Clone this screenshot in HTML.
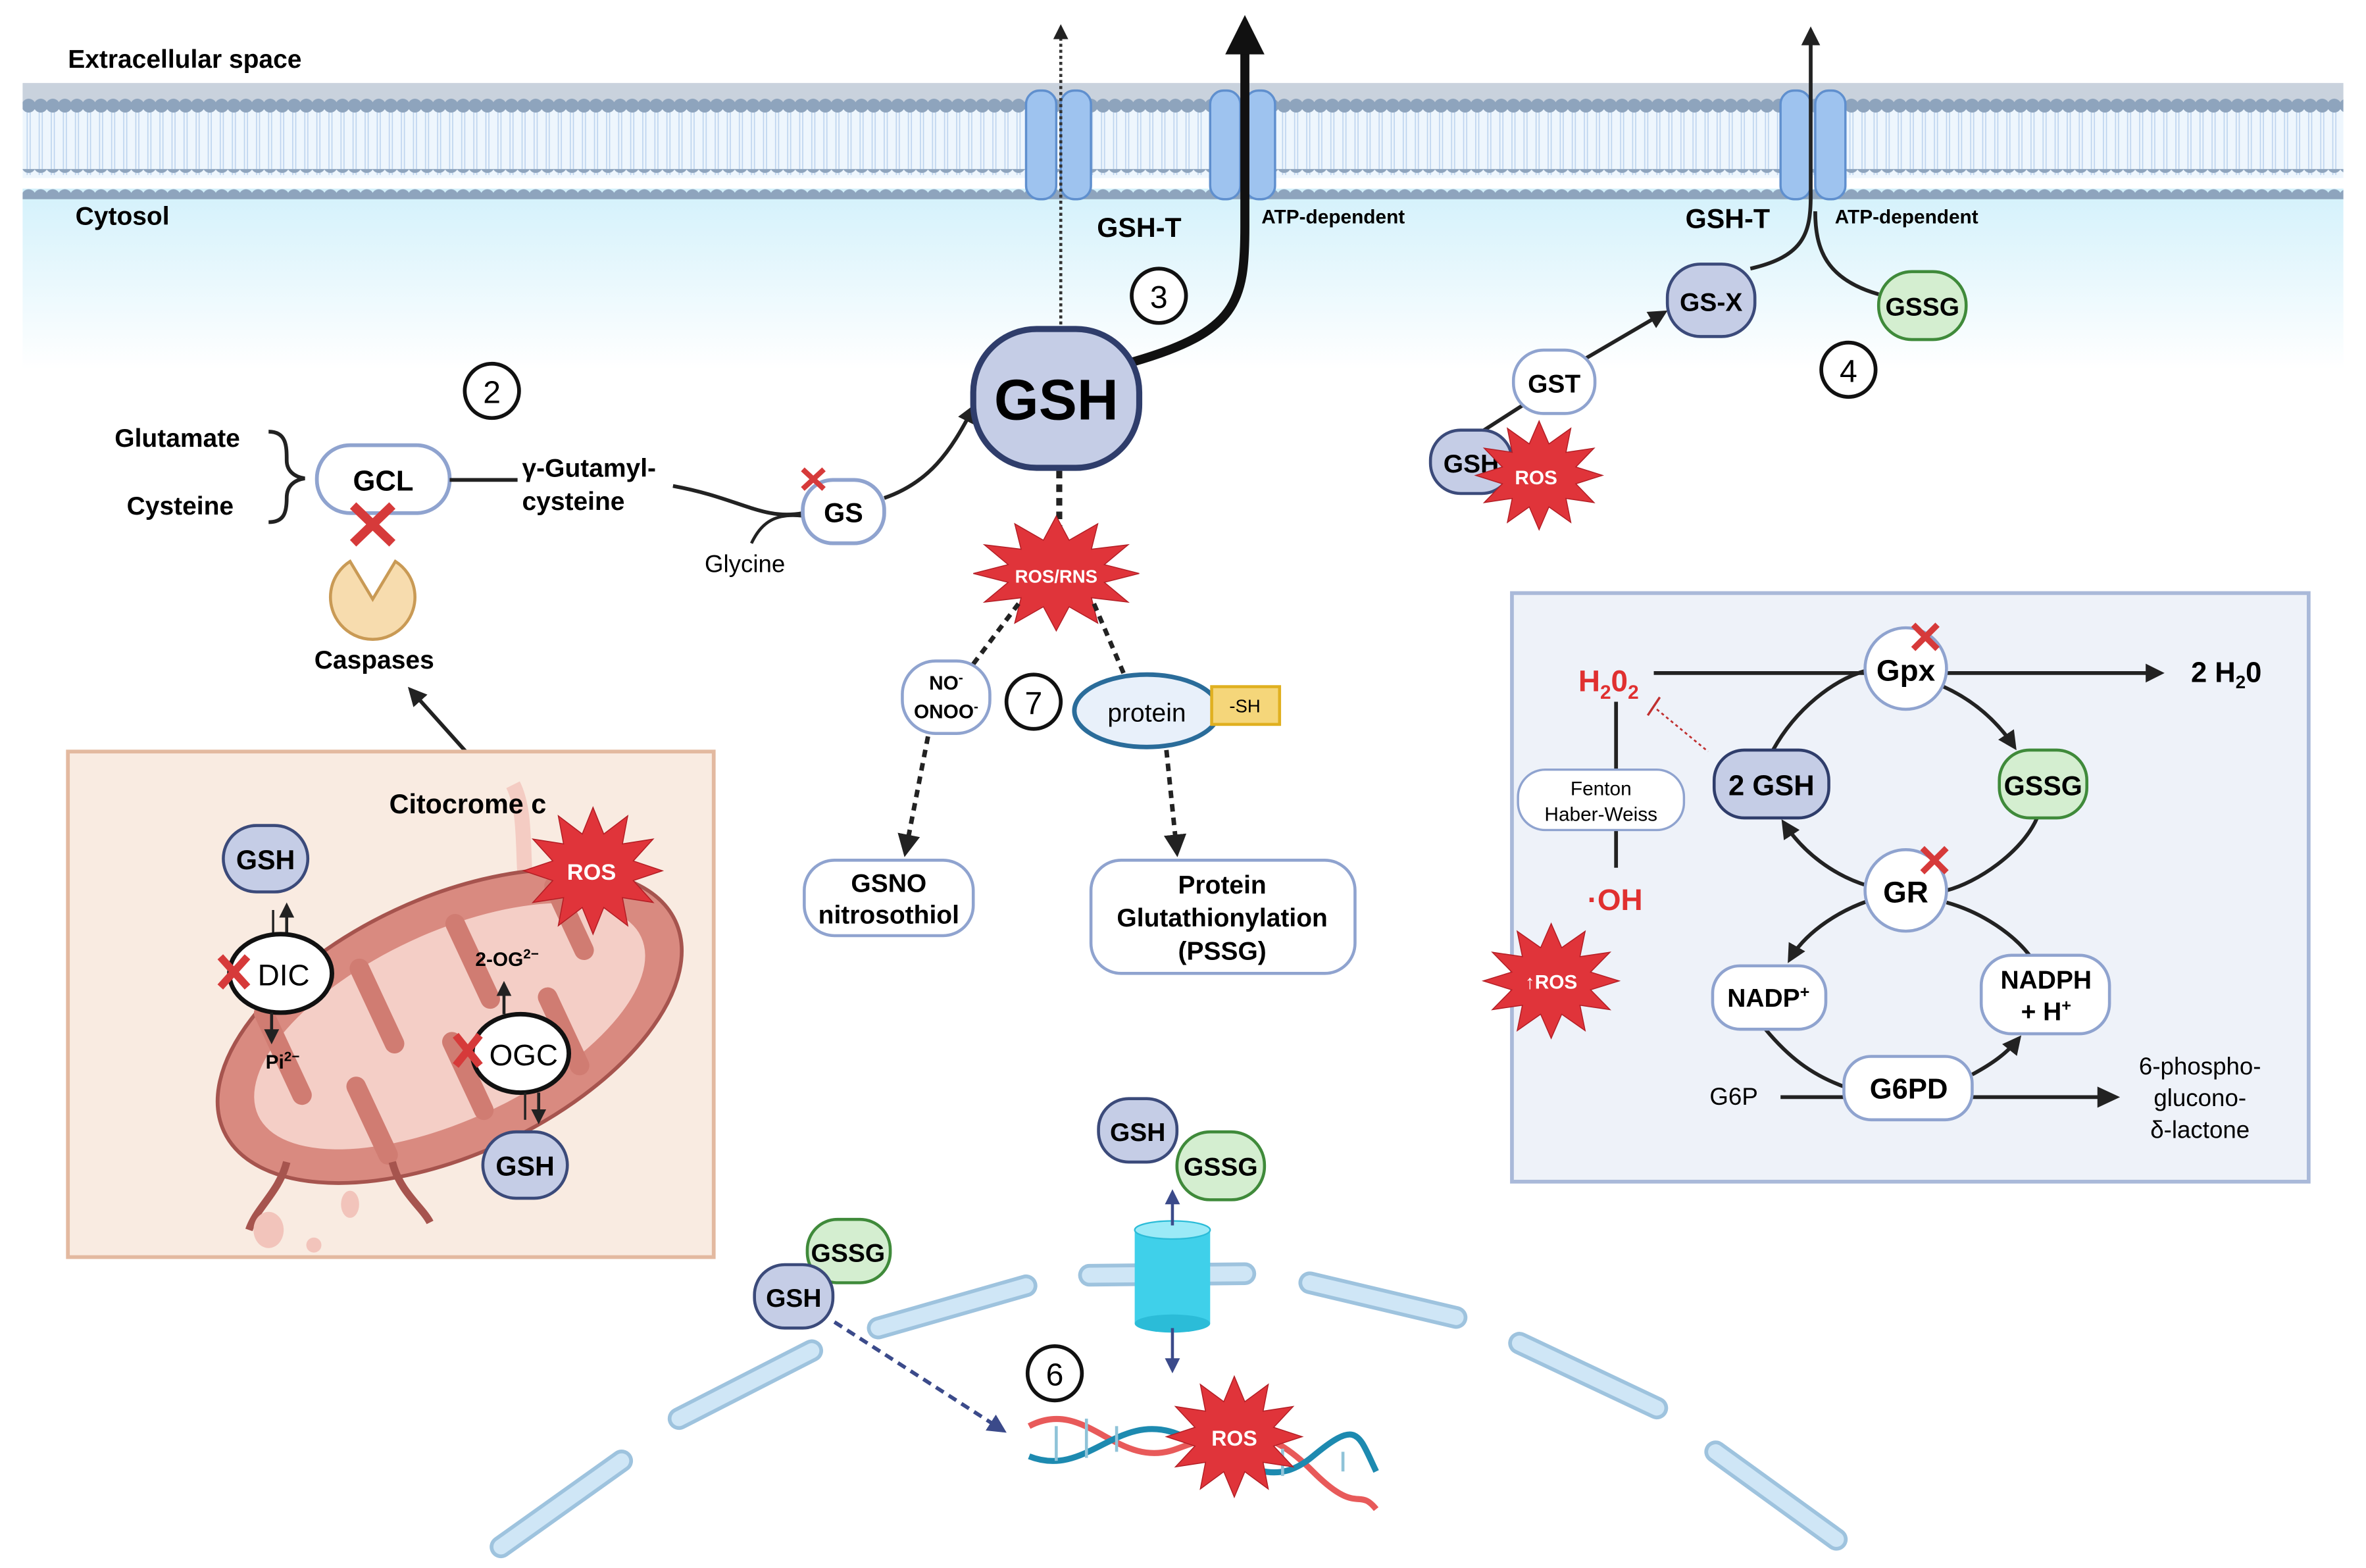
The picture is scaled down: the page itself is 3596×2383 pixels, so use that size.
<!DOCTYPE html>
<html><head><meta charset="utf-8"><style>
html,body{margin:0;padding:0;background:#fff;}
svg{display:block;}
text{font-family:"Liberation Sans",Arial,sans-serif;}
</style></head><body>
<svg width="3596" height="2383" viewBox="0 0 1568 1039" preserveAspectRatio="none" xmlns="http://www.w3.org/2000/svg">
<defs>
<linearGradient id="cyto" x1="0" y1="0" x2="0" y2="1">
<stop offset="0" stop-color="#d3f1fb"/><stop offset="1" stop-color="#ffffff"/></linearGradient>
<pattern id="heads" x="15" y="0" width="8" height="20" patternUnits="userSpaceOnUse">
<circle cx="4" cy="10" r="4.6" fill="#8ea4bd"/></pattern>
<pattern id="tails" x="15" y="0" width="8" height="40" patternUnits="userSpaceOnUse">
<path d="M3 0 L3 40 M5 0 L5 40" stroke="#bcd3ee" stroke-width="0.7"/></pattern>
<marker id="ah" viewBox="0 0 10 10" refX="8" refY="5" markerWidth="5" markerHeight="5" orient="auto"><path d="M0 0 L10 5 L0 10z" fill="#222"/></marker>
<marker id="ahb" viewBox="0 0 10 10" refX="8" refY="5" markerWidth="5" markerHeight="5" orient="auto"><path d="M0 0 L10 5 L0 10z" fill="#3b4a8a"/></marker>
<path id="star" d="M1 0 L.58 .155 L.866 .5 L.424 .424 L.5 .866 L.155 .58 L0 1 L-.155 .58 L-.5 .866 L-.424 .424 L-.866 .5 L-.58 .155 L-1 0 L-.58 -.155 L-.866 -.5 L-.424 -.424 L-.5 -.866 L-.155 -.58 L0 -1 L.155 -.58 L.5 -.866 L.424 -.424 L.866 -.5 L.58 -.155Z" fill="#e0343a" stroke="#b31e25" stroke-width="1.5" vector-effect="non-scaling-stroke"/>
</defs>

<rect x="15" y="125" width="1538" height="120" fill="url(#cyto)"/>
<rect x="15" y="68" width="1538" height="50" fill="#eef6fd"/>
<rect x="15" y="74" width="1538" height="42" fill="url(#tails)"/>
<rect x="15" y="55" width="1538" height="14" fill="#b2bfcf" opacity="0.7"/>
<rect x="15" y="60" width="1538" height="20" fill="url(#heads)"/>
<rect x="15" y="112" width="1538" height="20" fill="url(#heads)"/>
<text x="45" y="45" font-size="17" font-weight="bold">Extracellular space</text>
<text x="50" y="149" font-size="17" font-weight="bold">Cytosol</text>

<g fill="#9ec3ef" stroke="#5f8fce" stroke-width="1.5">
<rect x="680" y="60" width="20" height="72" rx="9"/><rect x="703" y="60" width="20" height="72" rx="9"/>
<rect x="802" y="60" width="20" height="72" rx="9"/><rect x="825" y="60" width="20" height="72" rx="9"/>
<rect x="1180" y="60" width="20" height="72" rx="9"/><rect x="1203" y="60" width="20" height="72" rx="9"/>
</g>
<path d="M703 215 L703 18" stroke="#333" stroke-width="2" stroke-dasharray="2,2" marker-end="url(#ah)"/>
<path d="M750 240 C820 220 825 200 825 150 L825 32" stroke="#111" stroke-width="6" fill="none"/>
<path d="M812 36 L825 10 L838 36z" fill="#111"/>
<path d="M1160 178 C1195 170 1200 155 1200 130 L1200 20" stroke="#222" stroke-width="2.5" fill="none" marker-end="url(#ah)"/>
<path d="M1245 195 C1210 185 1203 165 1203 140" stroke="#222" stroke-width="2.5" fill="none"/>
<text x="727" y="157" font-size="18" font-weight="bold">GSH-T</text>
<text x="836" y="148" font-size="13" font-weight="bold">ATP-dependent</text>
<text x="1117" y="151" font-size="18" font-weight="bold">GSH-T</text>
<text x="1216" y="148" font-size="13" font-weight="bold">ATP-dependent</text>

<g fill="#fff" stroke="#111" stroke-width="2.5">
<circle cx="326" cy="259" r="18"/><circle cx="768" cy="196" r="18"/><circle cx="1225" cy="245" r="18"/>
<circle cx="1437" cy="571" r="18"/><circle cx="685" cy="465" r="18"/><circle cx="87" cy="637" r="18"/><circle cx="699" cy="910" r="18"/>
</g>
<g font-size="21" text-anchor="middle">
<text x="326" y="267">2</text><text x="768" y="204">3</text><text x="1225" y="253">4</text><text x="1437" y="579">1</text><text x="685" y="473">7</text><text x="87" y="645">5</text><text x="699" y="918">6</text>
</g>

<text x="76" y="296" font-size="17" font-weight="bold">Glutamate</text>
<text x="84" y="341" font-size="17" font-weight="bold">Cysteine</text>
<path d="M178 286 C190 286 190 296 190 305 C190 312 195 316 202 317 C195 318 190 322 190 330 C190 340 188 346 178 346" stroke="#222" stroke-width="2.5" fill="none"/>
<rect x="210" y="295" width="88" height="45" rx="22" fill="#fff" stroke="#8fa3cf" stroke-width="2.5"/>
<text x="254" y="325" font-size="19" font-weight="bold" text-anchor="middle">GCL</text>
<path d="M234 335 L260 360 M260 335 L234 360" stroke="#d63a3a" stroke-width="6"/>
<path d="M298 318 L343 318" stroke="#222" stroke-width="2.5"/>
<text x="346" y="316" font-size="17" font-weight="bold">γ-Gutamyl-</text>
<text x="346" y="338" font-size="17" font-weight="bold">cysteine</text>
<path d="M446 322 C490 330 505 345 532 340" stroke="#222" stroke-width="2.5" fill="none"/>
<path d="M498 360 C505 345 515 340 532 342" stroke="#222" stroke-width="2" fill="none"/>
<text x="467" y="379" font-size="16">Glycine</text>
<rect x="532" y="318" width="54" height="42" rx="20" fill="#fff" stroke="#8fa3cf" stroke-width="2.5"/>
<text x="559" y="346" font-size="18" font-weight="bold" text-anchor="middle">GS</text>
<path d="M532 311 L546 324 M546 311 L532 324" stroke="#d63a3a" stroke-width="3.5"/>
<path d="M586 330 C615 320 630 300 645 270" stroke="#222" stroke-width="2.5" fill="none" marker-end="url(#ah)"/>
<path d="M247 397 L232 372 A28 28 0 1 0 262 372 Z" fill="#f7dcae" stroke="#c99a55" stroke-width="2"/>
<text x="248" y="443" font-size="17" font-weight="bold" text-anchor="middle">Caspases</text>
<path d="M315 505 L272 457" stroke="#222" stroke-width="2.5" marker-end="url(#ah)"/>

<rect x="645" y="218" width="110" height="92" rx="42" fill="#c5cde6" stroke="#2f3d6b" stroke-width="4"/>
<text x="700" y="278" font-size="38" font-weight="bold" text-anchor="middle">GSH</text>
<path d="M702 312 L702 350" stroke="#222" stroke-width="4" stroke-dasharray="5,4"/>
<use href="#star" transform="translate(700,380) scale(55,38)"/>
<text x="700" y="386" font-size="12" font-weight="bold" fill="#fff" text-anchor="middle">ROS/RNS</text>
<path d="M675 400 L645 440" stroke="#222" stroke-width="3" stroke-dasharray="5,4"/>
<path d="M725 400 L745 447" stroke="#222" stroke-width="3" stroke-dasharray="5,4"/>
<rect x="598" y="438" width="58" height="48" rx="22" fill="#fff" stroke="#8fa3cf" stroke-width="2"/>
<text x="627" y="457" font-size="13" font-weight="bold" text-anchor="middle">NO<tspan font-size="9" dy="-5">-</tspan></text>
<text x="627" y="476" font-size="13" font-weight="bold" text-anchor="middle">ONOO<tspan font-size="9" dy="-5">-</tspan></text>
<ellipse cx="760" cy="471" rx="48" ry="24" fill="#e8f0fa" stroke="#2a6c9a" stroke-width="3"/>
<text x="760" y="478" font-size="17" text-anchor="middle">protein</text>
<rect x="803" y="455" width="45" height="25" fill="#f5d67a" stroke="#e0b020" stroke-width="2"/>
<text x="825" y="472" font-size="12" text-anchor="middle">-SH</text>
<path d="M615 488 L600 565" stroke="#222" stroke-width="3" stroke-dasharray="5,4" marker-end="url(#ah)"/>
<path d="M773 497 L780 565" stroke="#222" stroke-width="3" stroke-dasharray="5,4" marker-end="url(#ah)"/>
<rect x="533" y="570" width="112" height="50" rx="20" fill="#fff" stroke="#8fa3cf" stroke-width="2"/>
<text x="589" y="591" font-size="17" font-weight="bold" text-anchor="middle">GSNO</text>
<text x="589" y="612" font-size="17" font-weight="bold" text-anchor="middle">nitrosothiol</text>
<rect x="723" y="570" width="175" height="75" rx="20" fill="#fff" stroke="#8fa3cf" stroke-width="2"/>
<text x="810" y="592" font-size="17" font-weight="bold" text-anchor="middle">Protein</text>
<text x="810" y="614" font-size="17" font-weight="bold" text-anchor="middle">Glutathionylation</text>
<text x="810" y="636" font-size="17" font-weight="bold" text-anchor="middle">(PSSG)</text>

<path d="M982 286 L1010 268" stroke="#222" stroke-width="2.5"/>
<path d="M1050 238 L1103 207" stroke="#222" stroke-width="2.5" marker-end="url(#ah)"/>
<rect x="1105" y="175" width="58" height="48" rx="22" fill="#c5cde6" stroke="#3b4a7a" stroke-width="2"/>
<text x="1134" y="206" font-size="17" font-weight="bold" text-anchor="middle">GS-X</text>
<rect x="1245" y="180" width="58" height="45" rx="22" fill="#d4eed0" stroke="#3f8a3a" stroke-width="2"/>
<text x="1274" y="209" font-size="17" font-weight="bold" text-anchor="middle">GSSG</text>
<rect x="1003" y="232" width="54" height="42" rx="20" fill="#fff" stroke="#8fa3cf" stroke-width="2"/>
<text x="1030" y="260" font-size="17" font-weight="bold" text-anchor="middle">GST</text>
<rect x="948" y="285" width="54" height="42" rx="20" fill="#c5cde6" stroke="#3b4a7a" stroke-width="2"/>
<text x="975" y="313" font-size="17" font-weight="bold" text-anchor="middle">GSH</text>
<use href="#star" transform="translate(1020,315) scale(42,36)"/>
<text x="1018" y="321" font-size="13" font-weight="bold" fill="#fff" text-anchor="middle">ROS</text>

<rect x="1002" y="393" width="528" height="390" fill="#eef2f9" stroke="#a9b9d9" stroke-width="2.5"/>
<text x="1046" y="458" font-size="20" font-weight="bold" fill="#e03030">H<tspan font-size="13" dy="5">2</tspan><tspan dy="-5">0</tspan><tspan font-size="13" dy="5">2</tspan></text>
<path d="M1096 446 L1236 446" stroke="#222" stroke-width="2.5"/>
<path d="M1290 446 L1432 446" stroke="#222" stroke-width="2.5" marker-end="url(#ah)"/>
<text x="1452" y="452" font-size="19" font-weight="bold">2 H<tspan font-size="12" dy="4">2</tspan><tspan dy="-4">0</tspan></text>
<path d="M1071 465 L1071 510 M1071 550 L1071 575" stroke="#222" stroke-width="2.5"/>
<rect x="1006" y="510" width="110" height="40" rx="18" fill="#fff" stroke="#8fa3cf" stroke-width="1.5"/>
<text x="1061" y="527" font-size="13" text-anchor="middle">Fenton</text>
<text x="1061" y="544" font-size="13" text-anchor="middle">Haber-Weiss</text>
<text x="1052" y="603" font-size="20" font-weight="bold" fill="#e03030">·OH</text>
<path d="M1100 462 L1092 474" stroke="#c03030" stroke-width="1.5"/>
<path d="M1098 470 L1132 498" stroke="#c03030" stroke-width="1.2" stroke-dasharray="2,2"/>
<use href="#star" transform="translate(1028,650) scale(45,38)"/>
<text x="1028" y="655" font-size="13" font-weight="bold" fill="#fff" text-anchor="middle">↑ROS</text>
<path d="M1175 497 C1190 470 1215 450 1238 444" stroke="#222" stroke-width="2.5" fill="none"/>
<path d="M1288 455 C1310 465 1325 480 1335 495" stroke="#222" stroke-width="2.5" fill="none" marker-end="url(#ah)"/>
<path d="M1350 542 C1340 565 1310 585 1290 590" stroke="#222" stroke-width="2.5" fill="none"/>
<path d="M1238 587 C1215 580 1195 565 1182 545" stroke="#222" stroke-width="2.5" fill="none" marker-end="url(#ah)"/>
<path d="M1238 597 C1215 605 1195 620 1186 636" stroke="#222" stroke-width="2.5" fill="none" marker-end="url(#ah)"/>
<path d="M1290 598 C1315 605 1335 620 1345 633" stroke="#222" stroke-width="2.5" fill="none"/>
<path d="M1170 682 C1185 700 1200 712 1222 720" stroke="#222" stroke-width="2.5" fill="none"/>
<path d="M1307 712 C1320 705 1330 698 1338 688" stroke="#222" stroke-width="2.5" fill="none" marker-end="url(#ah)"/>
<path d="M1180 727 L1222 727 M1307 727 L1402 727" stroke="#222" stroke-width="2.5"/>
<path d="M1390 720 L1405 727 L1390 734z" fill="#222"/>
<circle cx="1263" cy="443" r="27" fill="#fff" stroke="#8fa3cf" stroke-width="2"/>
<text x="1263" y="451" font-size="20" font-weight="bold" text-anchor="middle">Gpx</text>
<path d="M1268 414 L1284 430 M1284 414 L1268 430" stroke="#d63a3a" stroke-width="4"/>
<rect x="1136" y="497" width="76" height="45" rx="20" fill="#c5cde6" stroke="#2f3d6b" stroke-width="2"/>
<text x="1174" y="527" font-size="19" font-weight="bold" text-anchor="middle">2 GSH</text>
<rect x="1325" y="497" width="58" height="45" rx="20" fill="#d4eed0" stroke="#3f8a3a" stroke-width="2"/>
<text x="1354" y="527" font-size="18" font-weight="bold" text-anchor="middle">GSSG</text>
<circle cx="1263" cy="590" r="27" fill="#fff" stroke="#8fa3cf" stroke-width="2"/>
<text x="1263" y="598" font-size="20" font-weight="bold" text-anchor="middle">GR</text>
<path d="M1274 562 L1290 578 M1290 562 L1274 578" stroke="#d63a3a" stroke-width="4"/>
<rect x="1135" y="640" width="75" height="42" rx="18" fill="#fff" stroke="#8fa3cf" stroke-width="2"/>
<text x="1172" y="667" font-size="17" font-weight="bold" text-anchor="middle">NADP<tspan font-size="11" dy="-6">+</tspan></text>
<rect x="1313" y="633" width="85" height="52" rx="20" fill="#fff" stroke="#8fa3cf" stroke-width="2"/>
<text x="1356" y="655" font-size="17" font-weight="bold" text-anchor="middle">NADPH</text>
<text x="1356" y="676" font-size="17" font-weight="bold" text-anchor="middle">+ H<tspan font-size="11" dy="-6">+</tspan></text>
<rect x="1222" y="700" width="85" height="42" rx="18" fill="#fff" stroke="#8fa3cf" stroke-width="2"/>
<text x="1265" y="728" font-size="19" font-weight="bold" text-anchor="middle">G6PD</text>
<text x="1133" y="732" font-size="16">G6P</text>
<text x="1458" y="712" font-size="16" text-anchor="middle">6-phospho-</text>
<text x="1458" y="733" font-size="16" text-anchor="middle">glucono-</text>
<text x="1458" y="754" font-size="16" text-anchor="middle">δ-lactone</text>

<rect x="45" y="498" width="428" height="335" fill="#f9ebe1" stroke="#e3b9a0" stroke-width="2.5"/>
<path d="M340 520 C350 540 345 570 350 600" stroke="#f2c4bb" stroke-width="10" fill="none" opacity="0.8"/>
<text x="258" y="539" font-size="18" font-weight="bold">Citocrome c</text>
<g transform="rotate(-25 298 680)">
<ellipse cx="298" cy="680" rx="165" ry="85" fill="#d98a80" stroke="#a6544e" stroke-width="2.5"/>
<ellipse cx="298" cy="680" rx="140" ry="62" fill="#f4cec6"/>
<g stroke="#d07c72" stroke-width="13" stroke-linecap="round" fill="none">
<path d="M190 620 L190 680"/><path d="M225 740 L225 690"/><path d="M260 620 L260 675"/><path d="M295 740 L295 690"/><path d="M330 620 L330 675"/><path d="M365 740 L365 690"/><path d="M400 625 L400 672"/>
</g>
</g>
<path d="M190 770 C185 790 170 800 165 815 M260 770 C265 790 280 800 285 810" stroke="#a6544e" stroke-width="5" fill="none"/>
<ellipse cx="178" cy="815" rx="10" ry="12" fill="#f2c4bb"/><ellipse cx="208" cy="825" rx="5" ry="5" fill="#f2c4bb"/><ellipse cx="232" cy="798" rx="6" ry="9" fill="#f2c4bb"/>
<use href="#star" transform="translate(393,577) scale(46,42)"/>
<text x="392" y="583" font-size="15" font-weight="bold" fill="#fff" text-anchor="middle">ROS</text>
<rect x="148" y="547" width="56" height="44" rx="22" fill="#c5cde6" stroke="#3b4a7a" stroke-width="2"/>
<text x="176" y="576" font-size="18" font-weight="bold" text-anchor="middle">GSH</text>
<path d="M190 620 L190 600" stroke="#222" stroke-width="2" marker-end="url(#ah)"/>
<path d="M181 620 L181 603" stroke="#222" stroke-width="1.5"/>
<ellipse cx="186" cy="645" rx="34" ry="26" fill="#fff" stroke="#111" stroke-width="3"/>
<text x="188" y="653" font-size="20" text-anchor="middle">DIC</text>
<path d="M146 634 L164 654 M164 634 L146 654" stroke="#d63a3a" stroke-width="5"/>
<path d="M180 671 L180 690" stroke="#222" stroke-width="2" marker-end="url(#ah)"/>
<text x="176" y="708" font-size="13" font-weight="bold">Pi<tspan font-size="9" dy="-5">2−</tspan></text>
<text x="315" y="640" font-size="13" font-weight="bold">2-OG<tspan font-size="9" dy="-5">2−</tspan></text>
<path d="M334 672 L334 652" stroke="#222" stroke-width="2" marker-end="url(#ah)"/>
<ellipse cx="345" cy="698" rx="32" ry="26" fill="#fff" stroke="#111" stroke-width="3"/>
<text x="347" y="706" font-size="20" text-anchor="middle">OGC</text>
<path d="M302 686 L318 706 M318 686 L302 706" stroke="#d63a3a" stroke-width="5"/>
<path d="M357 724 L357 743" stroke="#222" stroke-width="2" marker-end="url(#ah)"/>
<path d="M348 724 L348 742" stroke="#222" stroke-width="1.5"/>
<rect x="320" y="750" width="56" height="44" rx="22" fill="#c5cde6" stroke="#3b4a7a" stroke-width="2"/>
<text x="348" y="779" font-size="18" font-weight="bold" text-anchor="middle">GSH</text>

<g stroke-linecap="round" fill="none">
<g stroke="#9ec3de" stroke-width="15">
<path d="M332 1025 L412 968"/><path d="M450 940 L538 895"/><path d="M582 880 L680 852"/><path d="M722 845 L825 844"/><path d="M868 850 L965 873"/><path d="M1007 890 L1098 933"/><path d="M1137 962 L1217 1020"/>
</g>
<g stroke="#cfe6f6" stroke-width="10">
<path d="M332 1025 L412 968"/><path d="M450 940 L538 895"/><path d="M582 880 L680 852"/><path d="M722 845 L825 844"/><path d="M868 850 L965 873"/><path d="M1007 890 L1098 933"/><path d="M1137 962 L1217 1020"/>
</g>
</g>
<rect x="752" y="815" width="50" height="62" fill="#3fd0ea"/>
<ellipse cx="777" cy="877" rx="25" ry="6" fill="#2bbcd8"/>
<ellipse cx="777" cy="815" rx="25" ry="6" fill="#9beaf7" stroke="#2bbcd8"/>
<path d="M777 812 L777 790" stroke="#3b4a8a" stroke-width="2" marker-end="url(#ahb)"/>
<path d="M777 880 L777 908" stroke="#3b4a8a" stroke-width="2" marker-end="url(#ahb)"/>
<rect x="728" y="728" width="52" height="42" rx="20" fill="#c5cde6" stroke="#3b4a7a" stroke-width="2"/>
<text x="754" y="756" font-size="17" font-weight="bold" text-anchor="middle">GSH</text>
<rect x="780" y="750" width="58" height="45" rx="22" fill="#d4eed0" stroke="#3f8a3a" stroke-width="2"/>
<text x="809" y="779" font-size="17" font-weight="bold" text-anchor="middle">GSSG</text>
<rect x="535" y="808" width="55" height="42" rx="20" fill="#d4eed0" stroke="#3f8a3a" stroke-width="2"/>
<text x="562" y="836" font-size="17" font-weight="bold" text-anchor="middle">GSSG</text>
<rect x="500" y="838" width="52" height="42" rx="20" fill="#c5cde6" stroke="#3b4a7a" stroke-width="2"/>
<text x="526" y="866" font-size="17" font-weight="bold" text-anchor="middle">GSH</text>
<path d="M553 876 L665 948" stroke="#3b4a8a" stroke-width="2.5" stroke-dasharray="6,4" marker-end="url(#ahb)"/>
<path d="M682 945 C720 925 740 975 780 960 S840 945 870 975 S900 985 912 1000" stroke="#e85a5a" stroke-width="4" fill="none"/>
<path d="M682 965 C720 980 740 935 780 950 S840 990 870 965 S900 950 912 975" stroke="#1d8ab0" stroke-width="4" fill="none"/>
<g stroke="#8fc3d8" stroke-width="2">
<path d="M700 945 L700 968 M720 940 L720 966 M740 945 L740 962 M800 955 L800 975 M820 955 L820 980 M850 960 L850 978 M890 975 L890 962"/>
</g>
<use href="#star" transform="translate(818,952) scale(45,40)"/>
<text x="818" y="958" font-size="14" font-weight="bold" fill="#fff" text-anchor="middle">ROS</text>
</svg>
</body></html>
